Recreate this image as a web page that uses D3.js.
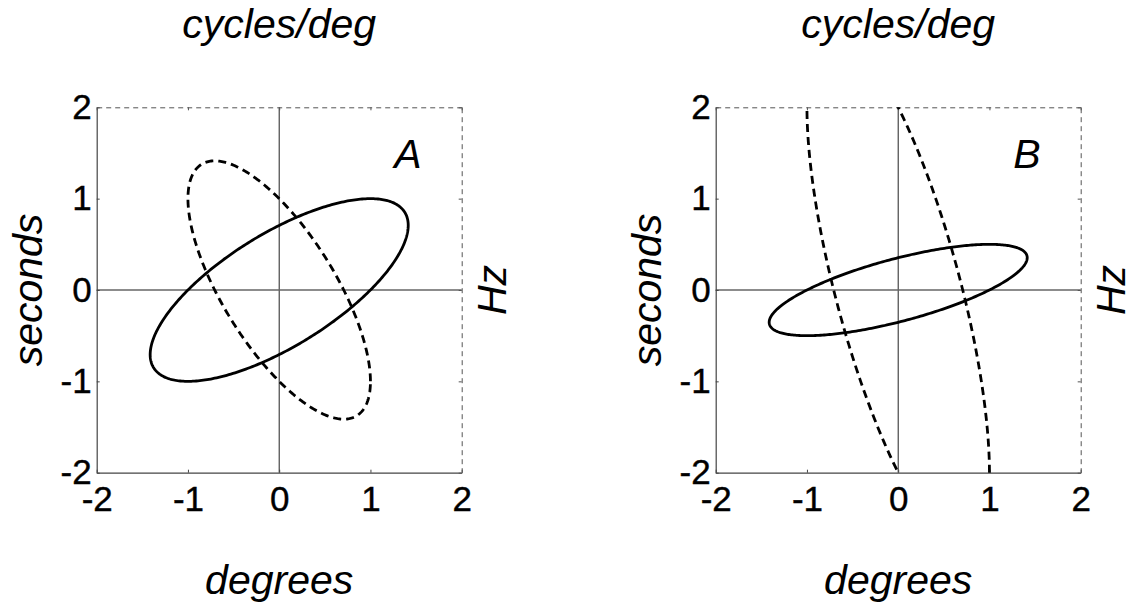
<!DOCTYPE html>
<html>
<head>
<meta charset="utf-8">
<script src="https://cdn.jsdelivr.net/npm/d3@7"></script>
<style>
  html, body { margin: 0; padding: 0; background: #fff; }
  svg { display: block; }
  text { font-family: "Liberation Sans", Arial, Helvetica, sans-serif; fill: #000; }
</style>
</head>
<body>
<svg id="chart" width="1130" height="609"></svg>
<script>
// Axis range and tick values shared by both panels
const axisDomain = [-2, 2];
const tickValues = [-2, -1, 0, 1, 2];

// Panel labels
const panelNames = ["A", "B"];

// Each ellipse: x = xHalf * cos(t), y = yHalf * cos(t - phase)
// xHalf = horizontal extent, yHalf = vertical extent, phase (degrees) sets the tilt
const solidXHalf  = [1.414, 1.414];
const solidYHalf  = [1.0,   0.5];
const solidPhase  = [45,    45];
const dashedXHalf = [1.0,   1.0];
const dashedYHalf = [1.414, 2.828];
const dashedPhase = [135,   135];

// Axis titles
const topTitle = "cycles/deg";
const bottomTitle = "degrees";
const leftTitle = "seconds";
const rightTitle = "Hz";

const svg = d3.select("#chart");
const plotW = 365, plotH = 365.4;
const panelLeft = [96.7, 715.7];
const panelTop = 107.3;

const x = d3.scaleLinear().domain(axisDomain).range([0, plotW]);
const y = d3.scaleLinear().domain(axisDomain).range([plotH, 0]);

const tickFont = 35;
const titleFont = 41;
const fmt = d => String(d);

function ellipsePoints(xh, yh, phaseDeg) {
  const ph = phaseDeg * Math.PI / 180;
  const n = 360;
  return d3.range(n + 1).map(i => {
    const t = 2 * Math.PI * i / n;
    return [xh * Math.cos(t), yh * Math.cos(t - ph)];
  });
}

const line = d3.line().x(d => x(d[0])).y(d => y(d[1])).curve(d3.curveLinearClosed);

panelNames.forEach((name, i) => {
  const g = svg.append("g").attr("transform", `translate(${panelLeft[i]},${panelTop})`);

  const clipId = "clip" + i;
  g.append("clipPath").attr("id", clipId)
    .append("rect").attr("x", 0).attr("y", 0).attr("width", plotW).attr("height", plotH);

  // Crosshair through the origin
  g.append("line")
    .attr("x1", x(0)).attr("x2", x(0)).attr("y1", 0).attr("y2", plotH)
    .attr("stroke", "#222").attr("stroke-width", 1);
  g.append("line")
    .attr("x1", 0).attr("x2", plotW).attr("y1", y(0)).attr("y2", y(0))
    .attr("stroke", "#666").attr("stroke-width", 1.3);

  // Bottom and left axes: solid, ticks pointing inward, labelled
  const bottom = g.append("g").attr("transform", `translate(0,${plotH})`)
    .call(d3.axisBottom(x).tickValues(tickValues).tickFormat(fmt)
      .tickSizeInner(-3).tickSizeOuter(0).tickPadding(13));
  const left = g.append("g")
    .call(d3.axisLeft(y).tickValues(tickValues).tickFormat(fmt)
      .tickSizeInner(-3).tickSizeOuter(0).tickPadding(5));
  [bottom, left].forEach(ax => {
    ax.select(".domain").attr("stroke", "#444").attr("stroke-width", 1.2);
    ax.selectAll(".tick line").attr("stroke", "#444");
    ax.selectAll(".tick text")
      .style("font-family", '"Liberation Sans", Arial, Helvetica, sans-serif')
      .style("font-size", tickFont + "px").attr("fill", "#000")
      .attr("stroke", "#000").attr("stroke-width", 0.4);
  });

  // Top and right axes: dashed, ticks inward, unlabelled
  const top = g.append("g")
    .call(d3.axisTop(x).tickValues(tickValues).tickFormat("")
      .tickSizeInner(-3).tickSizeOuter(0));
  const right = g.append("g").attr("transform", `translate(${plotW},0)`)
    .call(d3.axisRight(y).tickValues(tickValues).tickFormat("")
      .tickSizeInner(-3).tickSizeOuter(0));
  [top, right].forEach(ax => {
    ax.select(".domain").attr("stroke", "#555").attr("stroke-width", 1)
      .attr("stroke-dasharray", "5,4");
    ax.selectAll(".tick line").attr("stroke", "#555");
  });

  // Ellipses
  const marks = g.append("g").attr("clip-path", `url(#${clipId})`);
  marks.append("path")
    .datum(ellipsePoints(solidXHalf[i], solidYHalf[i], solidPhase[i]))
    .attr("d", line)
    .attr("fill", "none").attr("stroke", "#000").attr("stroke-width", 2.8);
  marks.append("path")
    .datum(ellipsePoints(dashedXHalf[i], dashedYHalf[i], dashedPhase[i]))
    .attr("d", line)
    .attr("fill", "none").attr("stroke", "#000").attr("stroke-width", 2.8)
    .attr("stroke-dasharray", "8,5");

  // Panel letter
  g.append("text")
    .attr("x", x(1.41)).attr("y", y(1.34))
    .attr("text-anchor", "middle")
    .style("font-size", titleFont + "px").style("font-style", "italic")
    .text(name);

  // Axis titles
  g.append("text")
    .attr("x", x(0)).attr("y", 38 - panelTop)
    .attr("text-anchor", "middle")
    .style("font-size", titleFont + "px").style("font-style", "italic")
    .text(topTitle);
  g.append("text")
    .attr("x", x(0)).attr("y", 594 - panelTop)
    .attr("text-anchor", "middle")
    .style("font-size", titleFont + "px").style("font-style", "italic")
    .text(bottomTitle);
  g.append("text")
    .attr("transform", `translate(${42 - 96.7},${y(0)}) rotate(-90)`)
    .attr("text-anchor", "middle")
    .style("font-size", titleFont + "px").style("font-style", "italic")
    .text(leftTitle);
  g.append("text")
    .attr("transform", `translate(${506 - 96.7},${y(0)}) rotate(-90)`)
    .attr("text-anchor", "middle")
    .style("font-size", titleFont + "px").style("font-style", "italic")
    .text(rightTitle);
});
</script>
</body>
</html>
